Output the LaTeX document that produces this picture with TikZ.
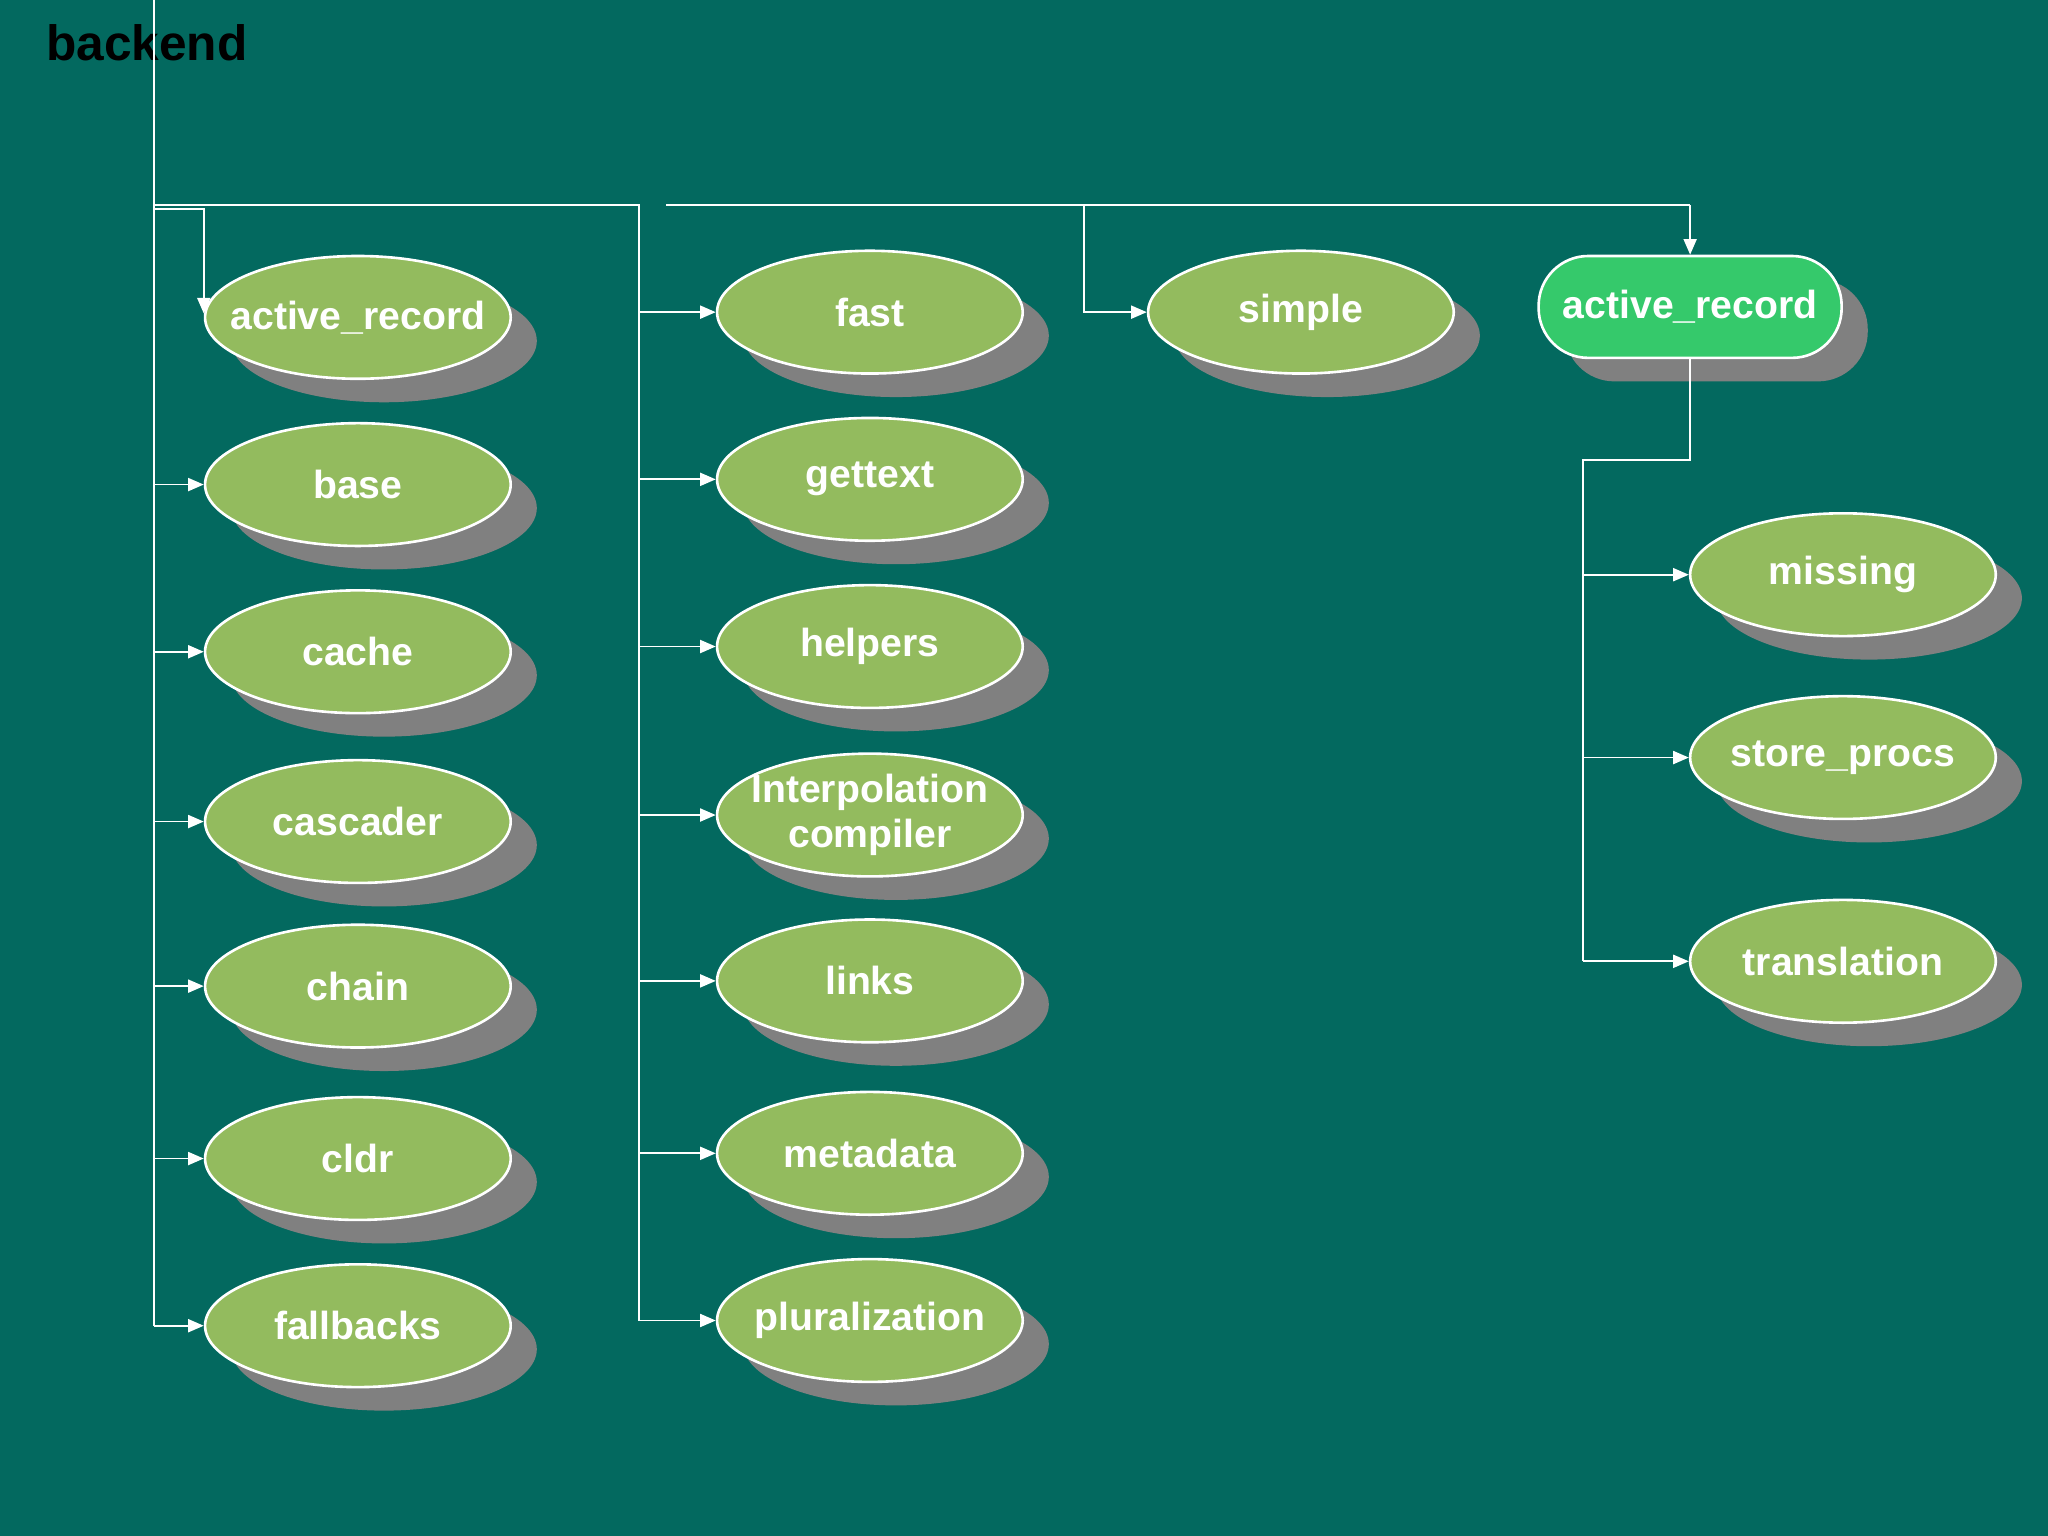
\documentclass[tikz,border=0pt]{standalone}
\usepackage{fontspec}
\setmainfont{Liberation Sans}
\usetikzlibrary{shapes.geometric,arrows.meta}
\definecolor{bg}{HTML}{03695F}
\definecolor{leaf}{HTML}{93BB5E}
\definecolor{hi}{HTML}{35C96B}
\definecolor{shd}{HTML}{808080}
\begin{document}
\begin{tikzpicture}[x=0.5pt,y=-0.5pt,
  lf/.style={ellipse,draw=white,line width=1pt,fill=leaf,minimum width=117pt,minimum height=47pt,inner sep=0pt},
  tx/.style={align=center,font=\bfseries\fontsize{15}{17}\selectfont,text=white,inner sep=0pt},
  sh/.style={ellipse,fill=shd,minimum width=117pt,minimum height=47pt},
  ln/.style={draw=white,line width=0.7pt},
  ar/.style={ln,-{Triangle[width=5pt,length=6pt]}}]
\fill[bg] (0,0) rectangle (1568,1176);
\useasboundingbox (0,0) rectangle (1568,1176);
\node[anchor=west,font=\bfseries\fontsize{19}{21}\selectfont,inner sep=0pt] (title) at (35,33) {backend};
\foreach \x/\y in {274/243,274/371,274/499,274/629,274/755,274/887,274/1015,666/239,666/367,666/495,666/624,666/751,666/883,666/1011,996/239,1411/440,1411/580,1411/736}
  \node[sh] at (\x+20,\y+18) {};
\fill[shd,rounded corners=19pt] (1198,214) rectangle (1430,292);
\foreach \nm/\x/\y/\t in {a1/274/243/active\_record,b/274/371/base,c/274/499/cache,d/274/629/cascader,e/274/755/chain,f/274/887/cldr,g/274/1015/fallbacks,h/666/239/fast,i/666/367/gettext,j/666/495/helpers,l/666/751/links,m/666/883/metadata,n/666/1011/pluralization,s/996/239/simple,p/1411/440/missing,q/1411/580/store\_procs,r/1411/736/translation}
  {\node[lf] (\nm) at (\x,\y) {}; \node[tx] at (\nm) {\t};}
\node[lf] (k) at (666,624) {};
\node[tx] at (k) {Interpolation\\compiler};
\node[draw=white,line width=1pt,fill=hi,rounded corners=19pt,minimum width=116pt,minimum height=39pt,font=\bfseries\fontsize{15}{17}\selectfont,text=white,inner sep=0pt] (ar2) at (1294,235) {active\_record};
\coordinate (t0) at (118,0);
\coordinate (t1) at (118,157);
\coordinate (t2) at (489,157);
\coordinate (t3) at (510,157);
\coordinate (t4) at (1294,157);
\draw[ln] (t0) -- (118,1015) (t1) -- (t2) -- (489,1011) (t3) -- (t4);
\draw[ar] (118,160) -- (156,160) -- (156,240);
\foreach \nn in {b,c,d,e,f,g} \draw[ar] (118,0 |- \nn.west) -- (\nn.west);
\foreach \nn in {h,i,j,k,l,m,n} \draw[ar] (489,0 |- \nn.west) -- (\nn.west);
\draw[ar] (830,157) -- (830,0 |- s.west) -- (s.west);
\draw[ar] (t4) -- (ar2.north);
\draw[ln] (ar2.south) -- (1294,352) -- (1212,352) -- (1212,736);
\foreach \nn in {p,q,r} \draw[ar] (1212,0 |- \nn.west) -- (\nn.west);
\end{tikzpicture}
\end{document}
